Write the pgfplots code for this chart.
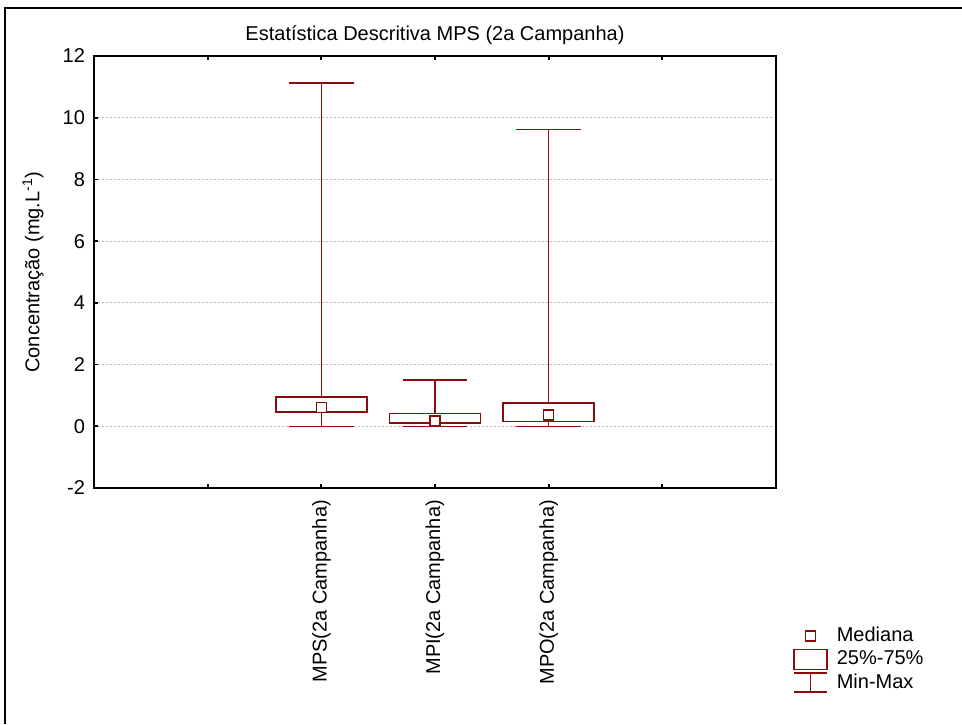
\documentclass[border=0pt]{standalone}
\usepackage{fontspec}
\setmainfont{Liberation Sans}
\usepackage{pgfplots}
\pgfplotsset{compat=1.18}
\usepgfplotslibrary{statistics}
\definecolor{dred}{RGB}{140,12,12}
\definecolor{gridgray}{RGB}{185,185,185}
\begin{document}
\begin{tikzpicture}
\useasboundingbox (0,0) rectangle (481pt,362pt);
\draw[line width=0.7pt] (2.5pt,0) -- (2.5pt,358pt) -- (481pt,358pt);
\begin{axis}[
  at={(47pt,118pt)}, anchor=south west,
  width=341pt, height=216pt, scale only axis,
  xmin=0, xmax=6, ymin=-2, ymax=12,
  xtick={1,2,3,4,5},
  xticklabels={,MPS(2a Campanha),MPI(2a Campanha),MPO(2a Campanha),},
  x tick label style={rotate=90, anchor=east, xshift=-2.5pt},
  ytick={-2,0,2,4,6,8,10,12},
  yticklabel style={xshift=-1pt},
  /pgf/number format/assume math mode=true,
  tick align=inside,
  xtick pos=both,
  ytick pos=left,
  major tick length=2pt,
  ymajorgrids,
  major grid style={gridgray, line width=0.5pt, dash pattern=on 1pt off 1pt},
  axis line style={line width=0.9pt},
  every tick/.style={black, line width=0.9pt},
  every axis title shift=0pt,
  title={Estatística Descritiva MPS (2a Campanha)},
  title style={at={(0.5,1)}, anchor=base, yshift=8pt},
  ylabel={Concentração (mg.L\textsuperscript{-1})},
  ylabel style={at={(axis description cs:-0.0894,0.5)}, anchor=center},
  boxplot/draw direction=y,
  boxplot/draw/median/.code={},
  legend style={draw=none, fill=none, at={(axis description cs:1.016,-0.303)}, anchor=north west, row sep=-1pt, column sep=2.5pt},
  legend cell align=left,
]
\addlegendimage{legend image code/.code={
  \path[draw=none, fill=none] (0pt,-5pt) rectangle (16.5pt,5pt);
  \draw[dred, line width=0.75pt] (5.75pt,-2.5pt) rectangle (10.75pt,2.5pt);}}
\addlegendentry{Mediana}
\addlegendimage{legend image code/.code={
  \path[draw=none, fill=none] (0pt,-5pt) rectangle (16.5pt,5pt);
  \draw[dred, line width=0.75pt] (0pt,-5pt) rectangle (16.5pt,5pt);}}
\addlegendentry{25\%-75\%}
\addlegendimage{legend image code/.code={
  \path[draw=none, fill=none] (0pt,-5pt) rectangle (16.5pt,5pt);
  \draw[dred, line width=0.75pt] (0pt,4.75pt) -- (16.5pt,4.75pt) (8.25pt,4.75pt) -- (8.25pt,-4.75pt) (0pt,-4.75pt) -- (16.5pt,-4.75pt);}}
\addlegendentry{Min-Max}
\addplot[dred, line width=0.75pt, boxplot prepared={draw position=2, lower whisker=0, lower quartile=0.46, median=0.61, upper quartile=0.95, upper whisker=11.12, box extend=0.8, whisker extend=0.57}] coordinates {};
\addplot[dred, line width=0.75pt, boxplot prepared={draw position=3, lower whisker=0, lower quartile=0.10, median=0.17, upper quartile=0.41, upper whisker=1.50, box extend=0.8, whisker extend=0.57}] coordinates {};
\addplot[dred, line width=0.75pt, boxplot prepared={draw position=4, lower whisker=0, lower quartile=0.16, median=0.36, upper quartile=0.75, upper whisker=9.62, box extend=0.8, whisker extend=0.57}] coordinates {};
\addplot[dred, line width=0.75pt, only marks, mark=square*, mark size=2.5pt, mark options={fill=white}] coordinates {(2,0.61) (3,0.17) (4,0.36)};
\end{axis}
\end{tikzpicture}
\end{document}
